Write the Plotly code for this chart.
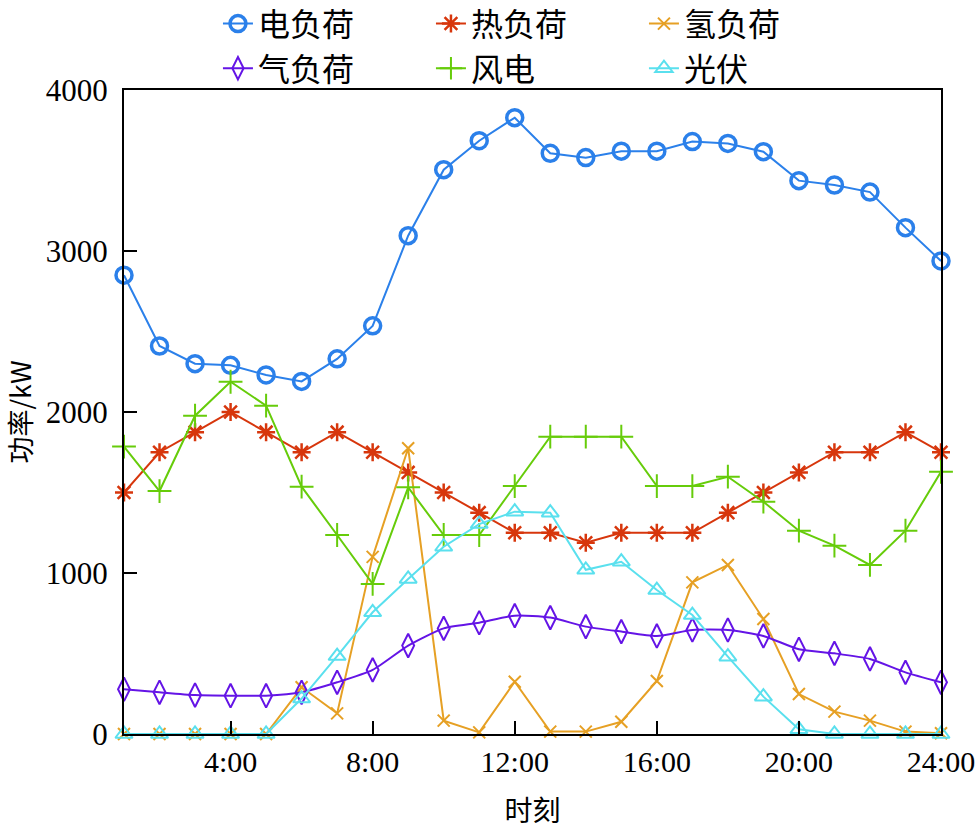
import plotly.graph_objects as go

hours = list(range(1, 25))
tick_vals = [4, 8, 12, 16, 20, 24]
tick_text = ["4:00", "8:00", "12:00", "16:00", "20:00", "24:00"]

elec = [2850, 2410, 2300, 2290, 2230, 2190, 2330, 2535, 3095, 3505, 3685, 3828,
        3607, 3580, 3620, 3620, 3680, 3668, 3617, 3437, 3410, 3366, 3145, 2938]
heat = [1500, 1750, 1875, 2000, 1875, 1750, 1875, 1750, 1625, 1500, 1375, 1250,
        1250, 1188, 1250, 1250, 1250, 1375, 1500, 1625, 1750, 1750, 1875, 1750]
hydrogen = [0, 0, 0, 0, 0, 290, 128, 1100, 1775, 83, 10, 325,
            15, 15, 76, 329, 942, 1050, 714, 248, 139, 83, 15, 5]
gas = [278, 259, 242, 238, 238, 259, 321, 398, 549, 656, 691, 735,
       723, 667, 636, 609, 646, 646, 609, 526, 501, 466, 383, 321]
wind = [1785, 1509, 1977, 2188, 2039, 1536, 1236, 932, 1532, 1236, 1236, 1540,
        1847, 1847, 1847, 1540, 1540, 1598, 1443, 1263, 1170, 1050, 1263, 1629]
pv = [0, 0, 0, 0, 0, 220, 484, 756, 963, 1163, 1304, 1381,
      1375, 1020, 1070, 894, 739, 480, 232, 29, 0, 0, 0, 0]

series = [
    ("电负荷", elec, "#2b80ea", "circle-open", 16, 3.5, "linear"),
    ("热负荷", heat, "#d7360c", "asterisk-open", 15, 2.5, "linear"),
    ("氢负荷", hydrogen, "#e6a024", "x-thin-open", 12, 2, "linear"),
    ("气负荷", gas, "#6414e6", "diamond-tall-open", 17, 2, "spline"),
    ("风电", wind, "#66cc0a", "cross-thin-open", 17, 2, "linear"),
    ("光伏", pv, "#5ae0ee", "triangle-up-open", 15, 2, "linear"),
]

fig = go.Figure()
for name, vals, color, sym, size, mlw, shape in series:
    fig.add_trace(go.Scatter(
        x=hours, y=vals, name=name, mode="lines+markers",
        line=dict(color=color, width=2, shape=shape, smoothing=0.6),
        marker=dict(symbol=sym, size=size, color=color, line=dict(color=color, width=mlw)),
        cliponaxis=False,
    ))

num_font = "Liberation Serif, Noto Sans CJK SC, serif"
cjk_font = "Noto Sans CJK SC, sans-serif"
fig.update_layout(
    width=980, height=829,
    margin=dict(l=124, r=39, t=90, b=95, autoexpand=False),
    paper_bgcolor="white", plot_bgcolor="white",
    font=dict(family=num_font, size=30, color="black"),
    showlegend=True,
    legend=dict(
        orientation="h", x=0.115, xanchor="left", y=1.1455, yanchor="top",
        font=dict(size=32, family=cjk_font),
        entrywidth=168, entrywidthmode="pixels",
        itemwidth=30, tracegroupgap=0,
        bgcolor="rgba(0,0,0,0)", traceorder="normal",
    ),
    xaxis=dict(
        range=[1, 24], tickvals=tick_vals, ticktext=tick_text,
        ticks="inside", ticklen=13, tickwidth=2, tickcolor="black",
        showline=True, linewidth=2, linecolor="black", mirror=True,
        showgrid=False, zeroline=False,
        tickfont=dict(size=30, family=num_font),
        title=dict(text="时刻", font=dict(size=28, family=cjk_font), standoff=24),
    ),
    yaxis=dict(
        range=[0, 4000], tickvals=[0, 1000, 2000, 3000, 4000],
        ticks="inside", ticklen=13, tickwidth=2, tickcolor="black",
        showline=True, linewidth=2, linecolor="black", mirror=True,
        showgrid=False, zeroline=False, ticklabelstandoff=8,
        tickfont=dict(size=31, family=num_font),
        title=dict(text="功率/kW", font=dict(size=27, family=cjk_font), standoff=34),
    ),
)

fig.write_html(
    "out.html",
    config={"displayModeBar": False},
    post_script="document.body.style.margin='0px';document.body.style.overflow='hidden';",
)
